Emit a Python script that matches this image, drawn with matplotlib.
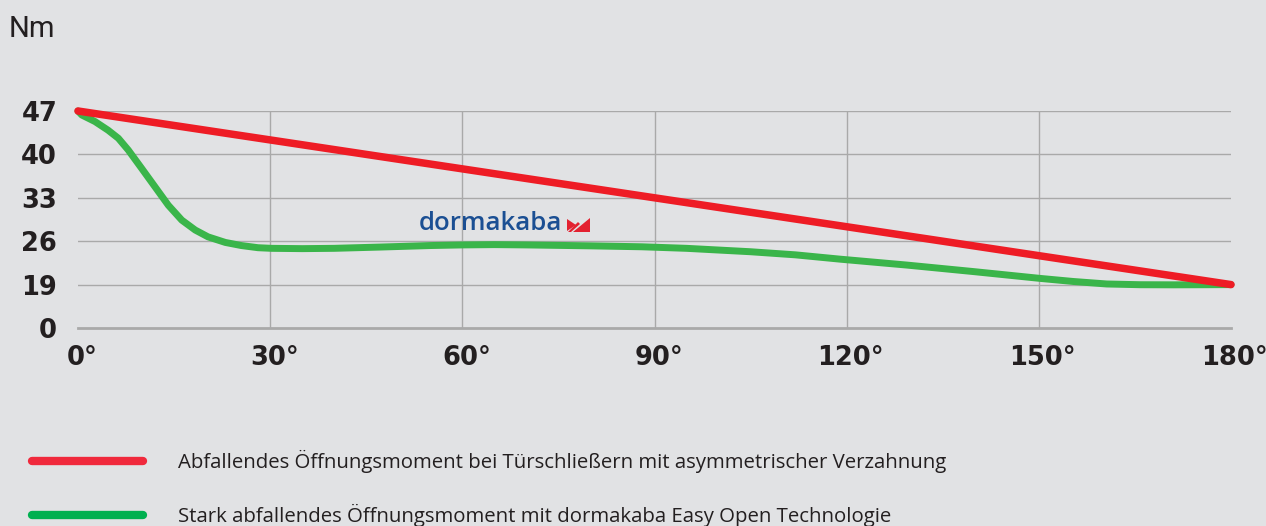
import numpy as np
import matplotlib
matplotlib.use('Agg')
import matplotlib.pyplot as plt
import matplotlib.transforms as mtransforms
from matplotlib.lines import Line2D
from matplotlib.patches import Polygon

# ---------------------------------------------------------------------------- #
# Data                                                                         #
# ---------------------------------------------------------------------------- #
angle_red = [0, 180]
torque_red = [47, 19]

angle_green = [0, 0.6, 2.65, 4.7, 6.3, 7.85, 9.9, 12.0, 14.1, 16.2, 18.3, 20.3, 23.0,
               25.5, 28.1, 30.2, 35, 40, 47, 55, 60, 65, 70, 80, 88, 95, 105, 112,
               119, 129.4, 139.8, 150.2, 155.4, 160.6, 165.8, 171, 176.2, 180]
torque_green = [47, 46.35, 45.3, 43.9, 42.6, 40.7, 37.8, 34.8, 31.8, 29.4, 27.8, 26.7,
                25.8, 25.3, 24.95, 24.85, 24.8, 24.85, 25.05, 25.3, 25.4, 25.45, 25.4,
                25.25, 25.1, 24.85, 24.3, 23.8, 23.1, 22.15, 21.1, 20.0, 19.5, 19.1,
                18.95, 18.9, 18.95, 19.0]

y_ticks = [0, 19, 26, 33, 40, 47]
x_ticks = [0, 30, 60, 90, 120, 150, 180]

legend_labels = ['Abfallendes Öffnungsmoment bei Türschließern mit asymmetrischer Verzahnung',
                 'Stark abfallendes Öffnungsmoment mit dormakaba Easy Open Technologie']
legend_colors = ['#f0293c', '#00b050']

BG = '#e1e2e4'
RED = '#ee1c25'
GREEN = '#3ab54a'
GRID = '#a9a9a9'
TEXT = '#231f20'

W, H = 1266, 526

# axis is linear above 19 Nm, the 0..19 range is squeezed into one 7 Nm step
def fwd(v):
    v = np.asarray(v, dtype=float)
    return np.where(v >= 19, v, 12 + v * 7 / 19)

def inv(u):
    u = np.asarray(u, dtype=float)
    return np.where(u >= 19, u, (u - 12) * 19 / 7)

def fx(x):
    return x / W

def fy(y):
    return 1 - y / H

fig = plt.figure(figsize=(W / 100, H / 100), dpi=100, facecolor=BG)
ax = fig.add_axes([fx(78), fy(328), 1153 / W, 217 / H])
ax.set_facecolor(BG)
ax.set_yscale('function', functions=(fwd, inv))

ax.plot(angle_red, torque_red, color=RED, lw=5.4, solid_capstyle='round', zorder=4, clip_on=False)
ax.plot(angle_green, torque_green, color=GREEN, lw=5.0, solid_capstyle='round',
        solid_joinstyle='round', zorder=3, clip_on=False)

ax.set_xlim(0, 180)
ax.set_ylim(0, 47)

ax.set_yticks(y_ticks)
ax.set_yticklabels([str(t) for t in y_ticks])
ax.set_xticks(x_ticks)
ax.set_xticklabels([f'{t}°' for t in x_ticks])

for s in ['top', 'left', 'right']:
    ax.spines[s].set_visible(False)
ax.spines['bottom'].set_color(GRID)
ax.spines['bottom'].set_linewidth(2.0)

ax.grid(True, color=GRID, lw=1.0)
ax.set_axisbelow(True)
xg = ax.xaxis.get_gridlines()
xg[0].set_visible(False)
xg[-1].set_visible(False)
ax.yaxis.get_gridlines()[0].set_visible(False)

ax.tick_params(length=0)
ax.tick_params(axis='y', pad=15)
ax.tick_params(axis='x', pad=12)
shift = mtransforms.ScaledTranslation(4 / 100, 0, fig.dpi_scale_trans)
for lab in ax.get_xticklabels():
    lab.set_transform(lab.get_transform() + shift)
for lab in ax.get_xticklabels() + ax.get_yticklabels():
    lab.set_fontfamily('DejaVu Sans')
    lab.set_fontweight('bold')
    lab.set_fontsize(18.5)
    lab.set_color(TEXT)

fig.text(fx(9), fy(29), 'Nm', fontsize=21, family='Roboto', color=TEXT,
         ha='left', va='center')

# logo
fig.text(fx(419), fy(223), 'dormakaba', fontsize=18.5, family='Open Sans', weight='semibold',
         color='#1b4f93', ha='left', va='center')
logo = [[(567, 219), (576, 225), (567, 231)],
        [(568, 232), (578, 222), (580, 224), (571, 232)],
        [(573, 232), (590, 218), (590, 232)]]
for tri in logo:
    pts = [(fx(x), fy(y)) for x, y in tri]
    fig.patches.append(Polygon(pts, closed=True, transform=fig.transFigure,
                               facecolor='#e32130', edgecolor='none'))

# legend
for i, (lab, col) in enumerate(zip(legend_labels, legend_colors)):
    yy = 461 + i * 54
    fig.lines.append(Line2D([fx(32), fx(143)], [fy(yy), fy(yy)], transform=fig.transFigure,
                            color=col, lw=6, solid_capstyle='round'))
    fig.text(fx(178), fy(yy), lab, fontsize=14.7, family='Open Sans', color=TEXT,
             ha='left', va='center')

fig.savefig('out.png', dpi=100, facecolor=BG)
